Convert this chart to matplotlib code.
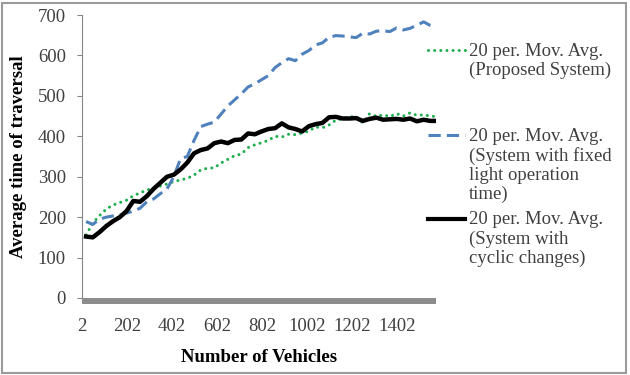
import matplotlib
matplotlib.use("Agg")
import matplotlib.pyplot as plt
from matplotlib.lines import Line2D
from matplotlib.patches import Rectangle

# valores (media movel de 20 periodos)
vehicles = [20, 50, 80, 110, 140, 170, 200, 230, 260, 290, 320, 350, 380, 410,
            440, 470, 500, 530, 560, 590, 620, 650, 680, 710, 740, 770, 800,
            830, 860, 890, 920, 950, 980, 1010, 1040, 1070, 1100, 1130, 1160,
            1190, 1220, 1250, 1280, 1310, 1340, 1370, 1400, 1430, 1460, 1490,
            1520, 1550, 1570]

proposed = [156, 185, 204, 220, 230, 236, 242, 253, 260, 267, 272, 277, 282, 288,
            292, 296, 304, 317, 321, 322, 334, 343, 352, 356, 372, 379, 384,
            390, 400, 398, 405, 404, 408, 413, 423, 421, 428, 440, 443,
            448, 449, 433, 456, 449, 453, 449, 456, 450, 458, 452,
            453, 450, 449]

fixed_time = [189, 182, 195, 200, 203, 205, 210, 215, 222, 238, 245, 258, 270, 300,
              345, 350, 390, 424, 430, 435, 455, 475, 490, 505, 522, 530, 540,
              550, 570, 582, 592, 587, 603, 612, 626, 631, 645, 649, 648,
              646, 644, 655, 653, 660, 661, 659, 668, 663, 667, 675,
              683, 674, 670]

cyclic = [152, 150, 163, 178, 190, 200, 215, 240, 238, 252, 270, 285, 300, 305,
          318, 335, 358, 366, 370, 383, 387, 383, 391, 392, 407, 405, 412,
          418, 420, 432, 422, 418, 412, 425, 430, 433, 447, 448, 444,
          444, 445, 438, 443, 446, 441, 442, 443, 441, 444, 437,
          441, 438, 438]

x_ticks = [2, 202, 402, 602, 802, 1002, 1202, 1402]
y_ticks = [0, 100, 200, 300, 400, 500, 600, 700]

labels = ["20 per. Mov. Avg.\n(Proposed System)",
          "20 per. Mov. Avg.\n(System with fixed\nlight operation\ntime)",
          "20 per. Mov. Avg.\n(System with\ncyclic changes)"]

green = '#1FAF50'
blue = '#4F81BD'
txt = '#404040'

plt.rcParams['font.family'] = ['Liberation Serif', 'DejaVu Serif']
plt.rcParams['font.size'] = 13.5

W, H = 630, 375
fig = plt.figure(figsize=(W / 100, H / 100), dpi=100)
ax = fig.add_axes([82 / W, 1 - 298 / H, (436 - 82) / W, (298 - 15) / H])

ax.plot(vehicles, proposed, color=green, lw=2.2, linestyle=(0, (0.01, 2.0)),
        dash_capstyle='round', zorder=3)
ax.plot(vehicles, fixed_time, color=blue, lw=2.2, linestyle=(0, (4, 2)), zorder=4)
ax.plot(vehicles, cyclic, color='black', lw=3.2, zorder=5)

ax.set_xlim(2, 1575)
ax.set_ylim(0, 700)
ax.set_xticks(x_ticks)
ax.set_yticks(y_ticks)

for s in ['top', 'right']:
    ax.spines[s].set_visible(False)
ax.spines['left'].set_color('#868686')
ax.spines['left'].set_linewidth(0.8)
# barra cinza grossa no eixo x
ax.spines['bottom'].set_color('#8C8C8C')
ax.spines['bottom'].set_linewidth(4.3)
ax.spines['bottom'].set_position(('outward', 2.2))
ax.spines['bottom'].set_capstyle('butt')

ax.tick_params(axis='y', length=3.6, width=0.8, color='#868686', pad=8, labelcolor=txt)
ax.tick_params(axis='x', length=0, pad=12, labelcolor=txt)

ax.set_ylabel('Average time of traversal', fontweight='bold', color='black')
ax.set_xlabel('Number of Vehicles', fontweight='bold', color='black', labelpad=10)
ax.yaxis.set_label_coords(-0.155, 0.5)

# legenda manual (icone alinhado com a primeira linha)
styles = [dict(color=green, lw=2.2, linestyle=(0, (0.01, 2.0)), dash_capstyle='round'),
          dict(color=blue, lw=2.2, linestyle=(0, (4, 2))),
          dict(color='black', lw=3.0)]
first_line = [50, 134.5, 218.5]
for lab, st, py in zip(labels, styles, first_line):
    fy = 1 - py / H
    fig.add_artist(Line2D([428 / W, 465 / W], [fy, fy], transform=fig.transFigure, **st))
    fig.text(469 / W, 1 - (py - 7) / H, lab, ha='left', va='top', color=txt,
             linespacing=1.16)

fig.add_artist(Rectangle((0.003, 0.005), 0.991, 0.988, transform=fig.transFigure,
                         fill=False, edgecolor='#9A9A9A', lw=1.5))

fig.savefig('out.png', dpi=100)
